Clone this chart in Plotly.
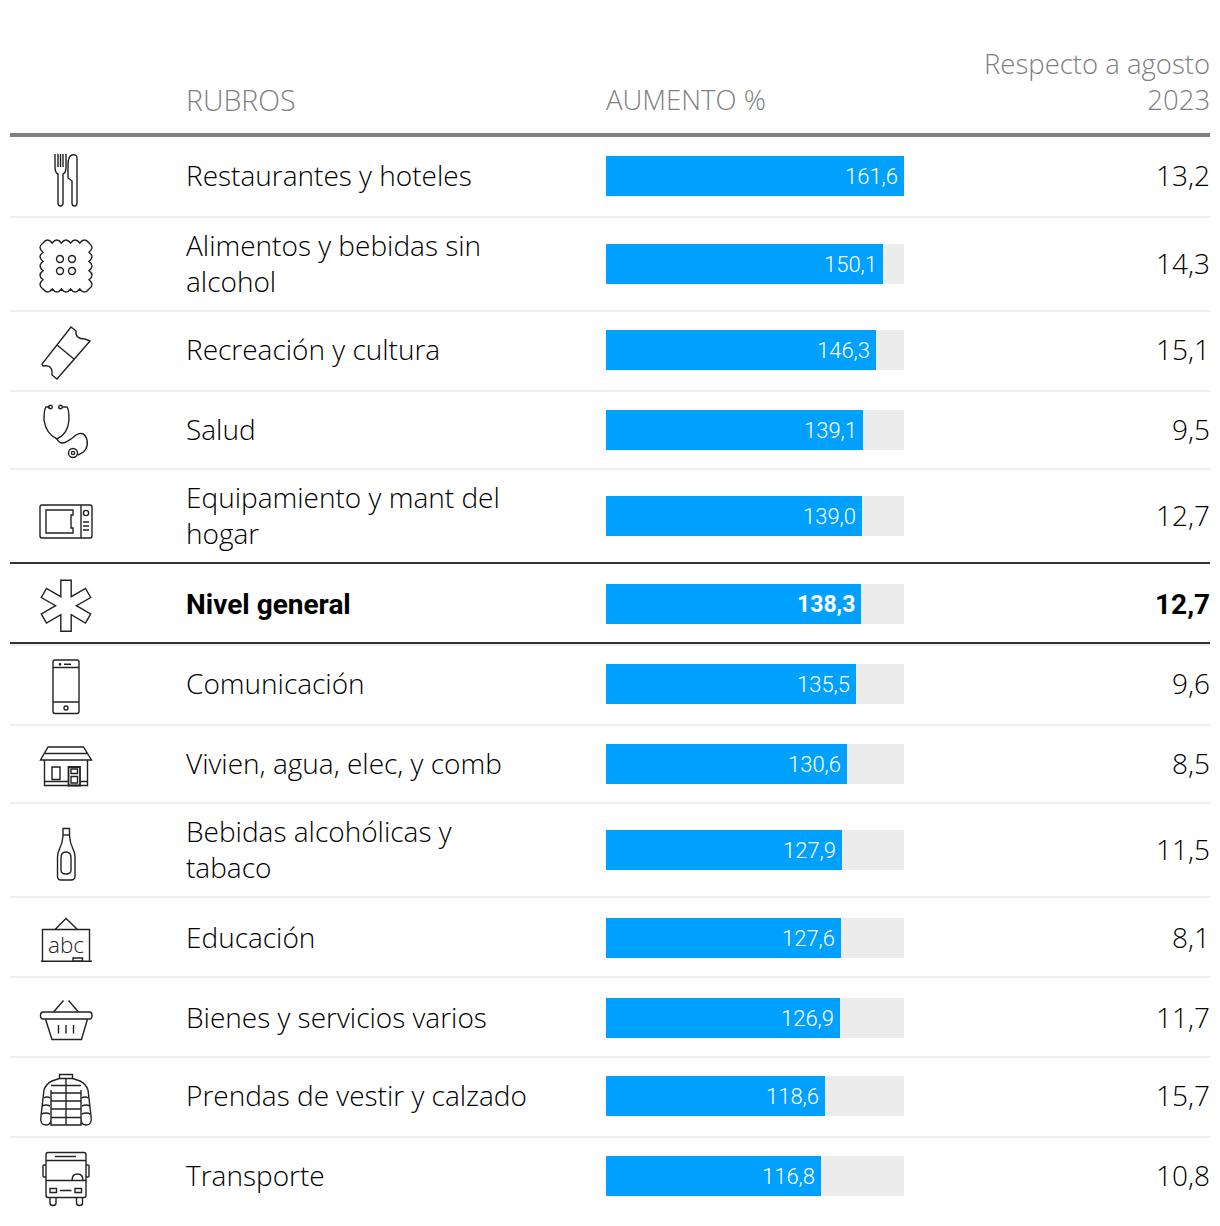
import math
import plotly.graph_objects as go

# ---------- data ----------
rubros = ["Restaurantes y hoteles", "Alimentos y bebidas sin<br>alcohol", "Recreación y cultura", "Salud",
          "Equipamiento y mant del<br>hogar", "Nivel general", "Comunicación", "Vivien, agua, elec, y comb",
          "Bebidas alcohólicas y<br>tabaco", "Educación", "Bienes y servicios varios",
          "Prendas de vestir y calzado", "Transporte"]
aumento = [161.6, 150.1, 146.3, 139.1, 139.0, 138.3, 135.5, 130.6, 127.9, 127.6, 126.9, 118.6, 116.8]
respecto = [13.2, 14.3, 15.1, 9.5, 12.7, 12.7, 9.6, 8.5, 11.5, 8.1, 11.7, 15.7, 10.8]
destacado = "Nivel general"

# ---------- layout constants (pixels) ----------
W, H = 1220, 1226
row_centers = [176, 264, 350, 430, 516, 604, 684, 764, 850, 938, 1018, 1096, 1176]
light_rules = [217, 311, 391, 469, 645, 725, 803, 897, 977, 1057, 1137]
dark_rules = [563, 643]
FONT = "Open Sans"
BOLD = "Roboto"
BLUE, TRACK, INK, GREY = "#00a0ff", "#ececec", "#222222", "#808080"


def fmt(v):
    return f"{v:.1f}".replace(".", ",")


fig = go.Figure()
fig.add_bar(x=[max(aumento)] * len(aumento), y=row_centers, width=40, orientation="h",
            marker=dict(color=TRACK, line_width=0), hoverinfo="skip", xaxis="x", yaxis="y")
fig.add_bar(x=aumento, y=row_centers, width=40, orientation="h",
            marker=dict(color=BLUE, line_width=0), xaxis="x", yaxis="y")
fig.add_scatter(x=[0], y=[0], mode="markers", marker_opacity=0, xaxis="x2", yaxis="y",
                hoverinfo="skip", showlegend=False)

shapes, ann = [], []


def rule(y, color, w):
    shapes.append(dict(type="line", xref="x2", yref="y", x0=10, x1=1210, y0=y, y1=y,
                       line=dict(color=color, width=w)))


for y in light_rules:
    rule(y, "#eeeeee", 2)
for y in dark_rules:
    rule(y, "#333333", 2)
rule(135, "#808080", 4)


def text(x, y, s, size=28, color="#000000", anchor="left", weight=300, xref="x2", xshift=0, yshift=1.5, family=FONT):
    pad = {"left": -3, "right": 3, "center": 0}[anchor]
    ann.append(dict(x=x, y=y, xref=xref, yref="y", text=s, showarrow=False, xanchor=anchor, yanchor="middle",
                    xshift=xshift + pad, yshift=yshift, align=anchor,
                    font=dict(family=family, size=size, color=color, weight=weight)))


text(187, 100, "RUBROS", color=GREY, size=28.5, yshift=0.5)
text(607, 100, "AUMENTO %", color=GREY, size=27.5, yshift=0.5)
text(1209, 82, "Respecto a agosto<br>2023", color=GREY, size=27.5, anchor="right", yshift=0.5)

for name, a, r, yc in zip(rubros, aumento, respecto, row_centers):
    bold = name == destacado
    w = 700 if bold else 300
    fam = BOLD if bold else FONT
    text(187, yc, name, weight=w, family=fam, yshift=0 if bold else 1.5)
    if bold:
        text(a, yc, fmt(a), size=23, color="white", anchor="right", xref="x", xshift=-7, weight=700, family=BOLD, yshift=0)
    else:
        text(a, yc, fmt(a), size=22, color="white", anchor="right", xref="x", xshift=-7, weight=300, family=BOLD, yshift=0)
    text(1209, yc, fmt(r), anchor="right", weight=w, family=fam, yshift=0 if bold else 1.5)


# ---------- icons ----------
def path(d, width=1.4, fill=None):
    s = dict(type="path", xref="x2", yref="y", path=d, line=dict(color=INK, width=width))
    if fill:
        s["fillcolor"] = fill
    shapes.append(s)


def circle(cx, cy, r, width=1.4):
    shapes.append(dict(type="circle", xref="x2", yref="y", x0=cx - r, x1=cx + r, y0=cy - r, y1=cy + r,
                       line=dict(color=INK, width=width)))


def rect(x0, y0, x1, y1, width=1.4):
    shapes.append(dict(type="rect", xref="x2", yref="y", x0=x0, x1=x1, y0=y0, y1=y1,
                       line=dict(color=INK, width=width)))


# fork and knife
path("M55,154 V167 Q55,173 58,174 V203 Q58,206 60.5,206 Q63,206 63,203 V174 Q66,173 66,167 V154")
path("M58,154 V167 M60.5,154 V167 M63,154 V167")
path("M72,155 Q68,156 68,165 V178 L72,181 V203 Q72,206 74.5,206 Q77,206 77,203 V158 Q77,154 72,155 Z")

# biscuit
n, x0, y0, s, b = 5, 43, 243, 9.2, 6
d = f"M{x0},{y0}"
for i in range(n):
    d += f" Q{x0 + s * i + s / 2},{y0 - b} {x0 + s * (i + 1)},{y0}"
for i in range(n):
    d += f" Q{x0 + s * n + b},{y0 + s * i + s / 2} {x0 + s * n},{y0 + s * (i + 1)}"
for i in range(n):
    d += f" Q{x0 + s * (n - i) - s / 2},{y0 + s * n + b} {x0 + s * (n - i - 1)},{y0 + s * n}"
for i in range(n):
    d += f" Q{x0 - b},{y0 + s * (n - i) - s / 2} {x0},{y0 + s * (n - i - 1)}"
path(d + " Z")
for cx in (60, 72):
    for cy in (259, 271):
        circle(cx, cy, 3.5)

# ticket
path("M71,327 L76,331 Q75,339 85,339 L90,341 L57,379 L52,375 Q53,364 43,366 L42,364 Z")
path("M57,345 L74,359")

# stethoscope
path("M50,407 H46 Q44,409 44,420 Q46,434 57,439 Q68,434 69,420 Q69,409 67,407 H63")
path("M57,439 Q60,445 66,442 Q73,438 76,435 Q84,430 87,440 Q89,451 78,455")
circle(50.5, 407, 1.8)
circle(60.5, 407, 1.8)
circle(73, 453, 4.5)
circle(73, 453, 1.6)

# microwave
path("M42,505 H90 Q92,505 92,507 V536 Q92,538 90,538 H42 Q40,538 40,536 V507 Q40,505 42,505 Z")
path("M81,505 V538")
path("M46,510 H73 V515 H71 V528 H73 V533 H46 Z")
circle(86, 513, 2.6)
path("M83,522 H89 M83,526 H89 M83,530 H89")

# asterisk
cx, cy, half, length = 66, 605.7, 5.2, 25.5
pts = []
for k in range(6):
    a = math.radians(60 * k - 90)
    ux, uy = math.cos(a), math.sin(a)
    vx, vy = -uy, ux
    pts.append((cx + ux * length - vx * half, cy + uy * length - vy * half))
    pts.append((cx + ux * length + vx * half, cy + uy * length + vy * half))
    bb = a + math.radians(30)
    r = half / math.sin(math.radians(30))
    pts.append((cx + math.cos(bb) * r, cy + math.sin(bb) * r))
path("M" + " L".join(f"{x:.1f},{y:.1f}" for x, y in pts) + " Z")

# phone
path("M55,660 H77 Q79,660 79,662 V711 Q79,713.5 77,713.5 H55 Q53,713.5 53,711 V662 Q53,660 55,660 Z")
path("M53,667.5 H79 M53,702 H79 M64,664.3 H71")
circle(60, 664.3, 0.7)
circle(66, 708, 2)

# house
path("M48,747 H83.5 L91.5,760 H40.5 Z M45,753.5 H87")
path("M44.5,760 V785.5 H87.5 V760 M44.5,781.5 H68 M80,781.5 H87.5")
rect(52, 767, 60, 779.5)
rect(68.5, 767, 80, 785.5, 1.8)
rect(71, 769, 77.5, 773.5)
rect(71, 776.5, 77.5, 783)

# bottle
path("M63,828.5 H69.5 V836 Q70,843 73,849 Q75,853 75,857 V876 Q75,880 71,880 H61 Q57.5,880 57.5,876 V857 "
     "Q57.5,853 59.5,849 Q62.5,843 63,836 Z")
path("M63,835 H69.5")
path("M66,852 Q71,852 71,858 V870 Q71,874 66,874 Q61,874 61,870 V858 Q61,852 66,852 Z")

# blackboard
path("M42.5,961 V929.5 H89.5 V961 M41,961.3 H92 M55,929.5 L66,918.5 L77.5,929.5")
rect(73, 958, 82.5, 961.3)
text(66, 946, "abc", size=22.5, color=INK, anchor="center", weight=300, family=FONT)

# basket
path("M43,1012 H89.5 Q92,1012 92,1015.5 Q92,1019 89.5,1019 H43 Q40.5,1019 40.5,1015.5 Q40.5,1012 43,1012 Z")
path("M45.5,1019 L52,1039.5 H81.5 L87.5,1019")
path("M53.5,1012 L63.5,1000.5 M68.5,1000.5 L78.5,1012")
path("M58.5,1025 V1033.5 M66,1025 V1033.5 M73.5,1025 V1033.5")

# jacket
path("M59.5,1078.5 V1074.5 H72.5 V1078.5 L80,1081 Q86,1084 88,1090 L91,1116 Q92.5,1125 86,1125 Q81.5,1125 81,1120 "
     "V1125 H51 V1120 Q50.5,1125 46,1125 Q39.5,1125 41,1116 L44,1090 Q46,1084 52,1081 Z")
path("M59.5,1078.5 H72.5 M66,1078.5 V1125 M51,1090 V1120 M81,1090 V1120")
path("M51,1085.5 H81 M51,1093 H81 M51,1101 H81 M51,1109 H81 M51,1117.5 H81")
path("M42,1106 Q46,1104 50,1106 M41.5,1114 Q46,1112 50,1114 M82,1106 Q86,1104 90,1106 M82,1114 Q86,1112 90.5,1114")
path("M43.5,1098 Q47,1096 50.5,1098 M81.5,1098 Q85,1096 88.5,1098")

# bus
path("M48,1152.5 H84 Q86,1152.5 86,1155 V1195 Q86,1197.5 84,1197.5 H48 Q46,1197.5 46,1195 V1155 Q46,1152.5 48,1152.5 Z")
path("M55,1156.5 H76 M46,1160.5 H86 M46,1180.5 H86 M60,1190.5 H71.5")
path("M72,1180.5 Q72,1174 77.5,1174 Q83,1174 83,1180.5")
rect(50, 1188.5, 56.5, 1192.5)
rect(75, 1188.5, 81.5, 1192.5)
path("M46,1165 H44 Q43,1165 43,1166 V1176 Q43,1177 44,1177 H46 M86,1165 H88 Q89,1165 89,1166 V1176 Q89,1177 88,1177 H86")
path("M50,1197.5 V1203 Q50,1205.5 53,1205.5 Q56,1205.5 56,1203 V1197.5 M76.5,1197.5 V1203 Q76.5,1205.5 79.5,1205.5 "
     "Q82.5,1205.5 82.5,1203 V1197.5")

fig.update_layout(
    width=W, height=H, margin=dict(l=0, r=0, t=0, b=0), barmode="overlay", bargap=0,
    showlegend=False, paper_bgcolor="white", plot_bgcolor="rgba(0,0,0,0)",
    xaxis=dict(domain=[606 / W, 904 / W], range=[0, max(aumento)], visible=False, fixedrange=True),
    xaxis2=dict(domain=[0, 1], range=[0, W], visible=False, fixedrange=True, anchor="y"),
    yaxis=dict(domain=[0, 1], range=[H, 0], visible=False, fixedrange=True),
    shapes=shapes, annotations=ann,
)
fig.write_html("out.html", config=dict(displayModeBar=False),
               post_script="document.body.style.margin='0';")
